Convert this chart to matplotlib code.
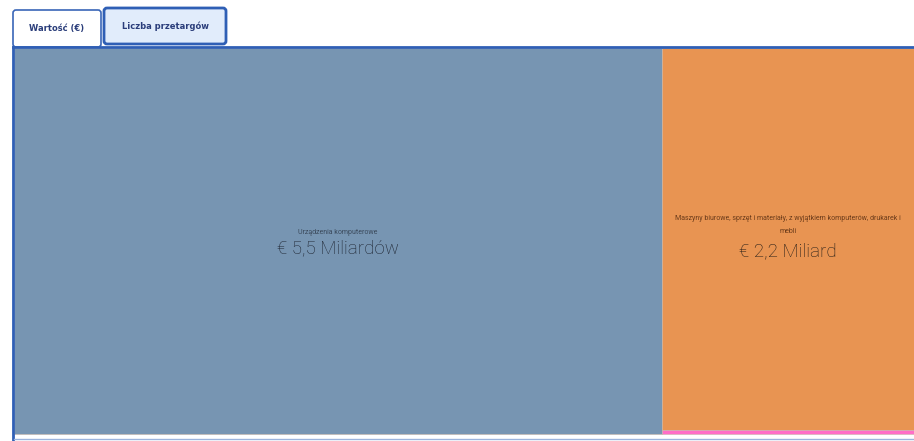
import matplotlib.pyplot as plt
from matplotlib.patches import Rectangle, FancyBboxPatch

# treemap values (billion EUR)
categories = ["Urządzenia komputerowe",
              "Maszyny biurowe, sprzęt i materiały, z wyjątkiem komputerów, drukarek i\nmebli",
              "Inne"]
values = [5.5, 2.2, 0.023]
value_labels = ["€ 5,5 Miliardów", "€ 2,2 Miliard", ""]
colors = ["#7795b2", "#e89452", "#ff6ec7"]
tabs = ["Wartość (€)", "Liczba przetargów"]

W, H = 914, 441
fig = plt.figure(figsize=(W / 100, H / 100), dpi=100)
ax = fig.add_axes([0, 0, 1, 1])
ax.set_xlim(0, W)
ax.set_ylim(H, 0)
ax.axis("off")

# tabs
ax.add_patch(FancyBboxPatch((13, 10), 88, 37, boxstyle="round,pad=0,rounding_size=3",
                            fc="white", ec="#3a66b8", lw=1.2))
ax.add_patch(FancyBboxPatch((104, 8), 122, 36, boxstyle="round,pad=0,rounding_size=3",
                            fc="#e1ecfb", ec="#2f5fb5", lw=2.0))
ax.text(57, 28, tabs[0], ha="center", va="center", fontsize=6, color="#2a3d7a",
        fontweight="bold", family="DejaVu Sans")
ax.text(165, 26, tabs[1], ha="center", va="center", fontsize=6, color="#2a3d7a",
        fontweight="bold", family="DejaVu Sans")

# treemap region (runs slightly past the right edge of the view)
x0, x1, y0, y1 = 14, 924, 48, 434
total = sum(values)
xs = x0 + (x1 - x0) * values[0] / total
rects = [(x0, y0, xs - x0, y1 - y0)]
rest = sum(values[1:])
y = y0
for v in values[1:]:
    h = (y1 - y0) * v / rest
    rects.append((xs, y, x1 - xs, h))
    y += h

for (rx, ry, rw, rh), c in zip(rects, colors):
    ax.add_patch(Rectangle((rx, ry), rw, rh, fc=c, ec="#c9b7a8", lw=0.4))

# labels
rx, ry, rw, rh = rects[0]
ax.text(rx + rw / 2, 232, categories[0], ha="center", va="center", fontsize=5,
        color="#3b4a5c", family="Roboto")
ax.text(rx + rw / 2, 248, value_labels[0], ha="center", va="center", fontsize=13.5,
        color="#1f2633", family="Roboto", fontweight="light")
cx = rx + rw + (W - rx - rw) / 2
ax.text(cx, 225, categories[1], ha="center", va="center", fontsize=5,
        color="#6b3b1a", family="Roboto", linespacing=2.1)
ax.text(cx, 251, value_labels[1], ha="center", va="center", fontsize=13.5,
        color="#1f1a15", family="Roboto", fontweight="light")

# frame lines
ax.plot([13, W], [47, 47], color="#2f5fb5", lw=2)
ax.plot([13, 13], [47, 441], color="#2f5fb5", lw=2)
ax.plot([14, W], [439, 439], color="#9bb3dc", lw=1)

fig.savefig("out.png", dpi=100)
